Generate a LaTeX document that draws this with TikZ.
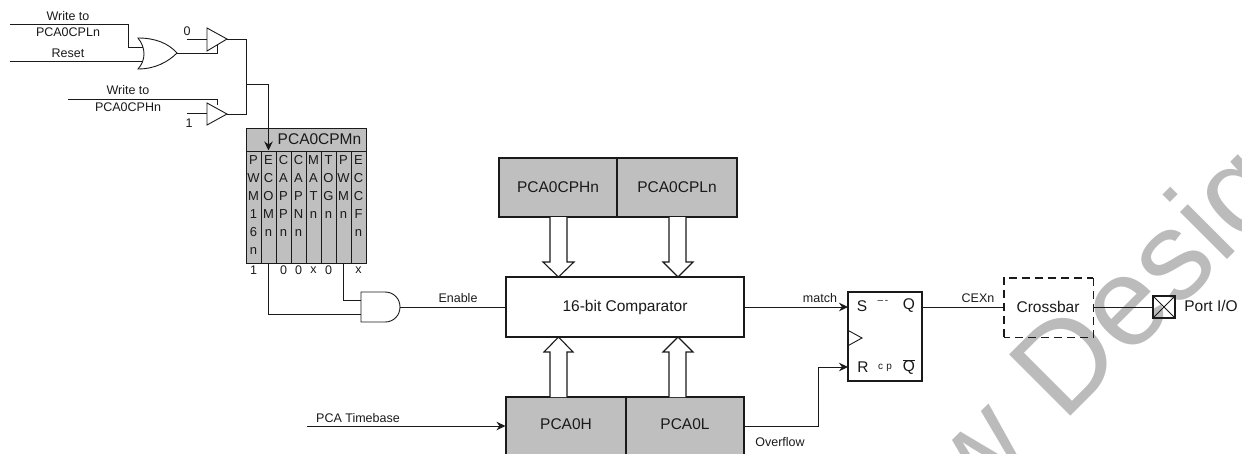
\documentclass[tikz,border=0pt]{standalone}
\usepackage{fontspec}
\setmainfont{Liberation Sans}
\usetikzlibrary{arrows.meta}
\definecolor{regfill}{HTML}{BFBFBF}
\definecolor{wm}{HTML}{BBBBBB}
\definecolor{ink}{HTML}{1A1A1A}
\newcommand{\fs}[1]{\fontsize{#1}{#1}\selectfont}
\tikzset{
  wire/.style={draw=ink,line width=1pt},
  arr/.style={wire,-{Stealth[length=9pt,width=8.5pt]}},
  gate/.style={draw=ink,line width=.9pt,fill=white},
  reg/.style={draw=ink,line width=1.1pt,fill=regfill,inner sep=0pt,text=ink,font=\fs{15.5}},
  plainbox/.style={draw=ink,line width=1.1pt,fill=white,inner sep=0pt,text=ink,font=\fs{15.5}},
  lab/.style={inner sep=0pt,text=ink,font=\fs{12.5}},
  cell/.style={draw=ink,line width=1pt,fill=regfill,minimum width=15pt,minimum height=112pt,inner sep=0pt},
  let/.style={inner sep=0pt,text=ink,font=\fs{13}},
  hollow/.style={draw=ink,line width=1.1pt,fill=white,line join=miter},
  wmark/.style={rotate=45,inner sep=0pt,text=wm,font=\fs{126}}
}
\begin{document}
\begin{tikzpicture}[x=1pt,y=-1pt]
\useasboundingbox (0,0) rectangle (1242,453);
\begin{scope}
\clip (0,0) rectangle (1242,453);
\node[wmark,anchor=base east] (markA) at (1036,451) {New};
\node[wmark,anchor=base west] (markB) at (1063,424) {Design};

% registers
\node[reg,minimum width=118pt,minimum height=59pt] (cph) at (558,187.5) {PCA0CPHn};
\node[reg,minimum width=120pt,minimum height=59pt] (cpl) at (677,187.5) {PCA0CPLn};
\node[plainbox,minimum width=238pt,minimum height=60pt] (cmp) at (625,307) {16-bit Comparator};
\node[reg,minimum width=120pt,minimum height=70pt] (ch) at (566,432) {};
\node[reg,minimum width=118pt,minimum height=70pt] (cl) at (685,432) {};
\node[inner sep=0pt,text=ink,font=\fs{15.5}] (chl) at (566,424) {PCA0H};
\node[inner sep=0pt,text=ink,font=\fs{15.5}] (cll) at (685,424) {PCA0L};
\end{scope}

% hollow bus arrows
\draw[hollow] (550,217) -- (550,262) -- (543,262) -- (558.5,277) -- (574,262) -- (567,262) -- (567,217);
\draw[hollow] (669,217) -- (669,262) -- (663,262) -- (678,277) -- (693,262) -- (686,262) -- (686,217);
\draw[hollow] (550,397) -- (550,352) -- (544,352) -- (558.5,337) -- (573,352) -- (567,352) -- (567,397);
\draw[hollow] (669,397) -- (669,352) -- (663,352) -- (678,337) -- (693,352) -- (686,352) -- (686,397);

% PCA0CPMn
\node[reg,anchor=north west,minimum width=120pt,minimum height=23pt] (mh) at (246,128) {};
\node[inner sep=0pt,text=ink,font=\fs{15.5}] (mhl) at (319.5,139.5) {PCA0CPMn};
\foreach \i/\x/\t in {0/253.5/1,1/268.5/,2/283.5/0,3/298.5/0,4/313.5/x,5/328.5/0,6/343.5/,7/358.5/x}{
  \node[cell] (c\i) at (\x,207) {};
  \node[lab] (v\i) at (\x,270) {\t};
}
\foreach \i/\l in {0/{P,W,M,1,6,n},1/{E,C,O,M,n},2/{C,A,P,P,n},3/{C,A,P,N,n},4/{M,A,T,n},5/{T,O,G,n},6/{P,W,M,n},7/{E,C,C,F,n}}{
  \foreach \s [count=\k] in \l {
    \node[let] (t\i-\k) at ([yshift={-(18*\k-8)}]c\i.north) {\s};
  }
}

% left input logic
\coordinate (w1) at (10,24); \coordinate (r1) at (10,61);
\coordinate (w2) at (68,99);
\coordinate (orA) at (143,47); \coordinate (orB) at (143,61); \coordinate (orY) at (177,53);
\draw[gate] (138,38) .. controls (155,38) and (168,43) .. (orY)
  .. controls (168,62) and (155,69) .. (138,69)
  .. controls (146,60) and (146,48) .. cycle;
\draw[wire] (w1) -| (128,47) -- (orA);
\draw[wire] (r1) -- (orB);
\node[lab] (l1) at (68,16) {Write to};
\node[lab] (l2) at (68,32) {PCA0CPLn};
\node[lab] (l3) at (68,53) {Reset};
\node[lab] (l4) at (128,90) {Write to};
\node[lab] (l5) at (128,107) {PCA0CPHn};
\node[lab] (l6) at (187,31) {0};
\node[lab] (l7) at (189,123) {1};

\coordinate (tri1) at (227,39); \coordinate (tri2) at (227,114);
\coordinate (tri1in) at (207,39); \coordinate (tri2in) at (207,113);
\coordinate (in0) at (187,39); \coordinate (in1) at (187,113);
\coordinate (en1) at (217,45); \coordinate (en2) at (217,105);
\draw[gate] (tri1in |- 0,28) -- (tri1) -- (tri1in |- 0,51) -- cycle;
\draw[gate] (tri2in |- 0,103) -- (tri2) -- (tri2in |- 0,125) -- cycle;
\draw[wire] (in0) -- (tri1in);
\draw[wire] (in1) -- (tri2in);
\draw[wire] (orY) -| (en1);
\draw[wire] (w2) -| (en2);
\coordinate (bus) at (246,84);
\draw[wire] (tri1) -| (bus);
\draw[wire] (tri2) -| (bus);
\draw[arr] (bus) -| (c1.north);

% AND gate
\coordinate (andA) at (361,300); \coordinate (andB) at (361,314); \coordinate (andY) at (400,307);
\draw[gate] (361,292) -- (385,292) .. controls (394,292) and (400,299) .. (andY)
  .. controls (400,315) and (394,322) .. (385,322) -- (361,322) -- cycle;
\draw[wire] (c6.south) |- (andA);
\draw[wire] (c1.south) |- (andB);
\draw[wire] (andY) -- (cmp.west);
\node[lab] (en) at (458,298) {Enable};

% timebase and overflow
\coordinate (tb) at (307,426);
\draw[arr] (tb) -- (tb -| ch.west);
\node[lab] (tbl) at (358,418) {PCA Timebase};
\node[lab] (ov) at (780,442) {Overflow};

% flip-flop
\node[plainbox,minimum width=74pt,minimum height=89pt] (ff) at (885,336.5) {};
\draw[gate,fill=none] (ff.west |- 0,330) -- (862,338) -- (ff.west |- 0,346);
\node[inner sep=0pt,text=ink,font=\fs{15.5}] (fs) at (862,306) {S};
\node[inner sep=0pt,text=ink,font=\fs{15.5}] (fq) at (909,306) {Q};
\node[inner sep=0pt,text=ink,font=\fs{15.5}] (fr) at (863,367) {R};
\node[inner sep=0pt,text=ink,font=\fs{15.5}] (fn) at (909,367) {$\overline{\mbox{Q}}$};
\node[inner sep=0pt,text=ink,font=\fs{10}] (fd) at (883,302) {--\,-};
\node[inner sep=0pt,text=ink,font=\fs{10}] (fc) at (885,368) {c\,\,p};
\coordinate (ffS) at (848,307); \coordinate (ffR) at (848,367); \coordinate (ffQ) at (922,307);
\draw[arr] (cmp.east |- ffS) -- (ffS);
\coordinate (ovs) at (743,426);
\draw[arr] (ovs) -| (818,367) -- (ffR);
\node[lab] (ml) at (820,298) {match};
\node[lab] (cex) at (978,298) {CEXn};

% crossbar and port
\node[inner sep=0pt,minimum width=89pt,minimum height=59pt] (xb) at (1048.5,307.5) {};
\node[inner sep=0pt,text=ink,font=\fs{15.5}] (xbl) at (1048,307) {Crossbar};
\draw[draw=ink,line width=2.2pt,dash pattern=on 8pt off 5pt] (xb.south west) -- (xb.north west) -- (xb.north east);
\draw[draw=ink,line width=1.2pt,dash pattern=on 8pt off 5pt] (xb.north east) -- (xb.south east) -- (xb.south west);
\draw[wire] (ffQ) -- (xb.west |- ffQ);
\node[draw=ink,line width=1.1pt,minimum size=22pt,inner sep=0pt] (port) at (1164,307) {};
\draw[wire] (xb.east |- port.west) -- (port.west);
\draw[draw=ink,line width=.8pt] (port.north west) -- (port.south east);
\draw[draw=ink,line width=.8pt] (port.south west) -- (port.north east);
\node[inner sep=0pt,text=ink,font=\fs{15.5}] (pio) at (1211,306) {Port I/O};
\end{tikzpicture}
\end{document}
